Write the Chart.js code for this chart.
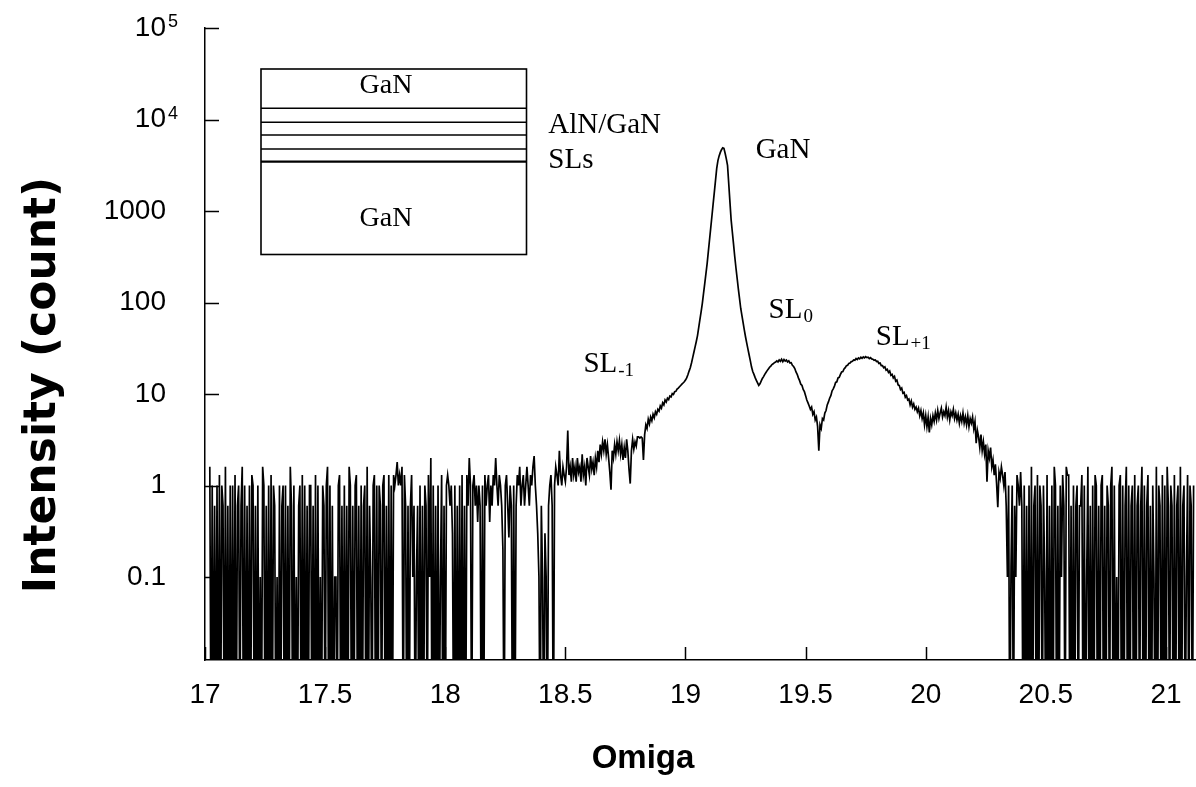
<!DOCTYPE html>
<html>
<head>
<meta charset="utf-8">
<title>GaN / AlN-GaN SL omega scan</title>
<script src="https://cdn.jsdelivr.net/npm/chart.js@4.4.1/dist/chart.umd.min.js"></script>
<style>
  html, body { margin: 0; padding: 0; background: #fff; }
  #scanChart { display: block; }
</style>
</head>
<body>
<canvas id="scanChart" width="1196" height="787"></canvas>
<script>
// omega grid of the scan (deg)
const omegaStart = 17.02;
const omegaStep = 0.005;

// intensity (count), one value per omega step, 20 values per 0.1 deg row
const backgroundLeft = [ // 17.020 - 18.415
  1.6, 0, 1, 0, .6, 0, 1, 0, 1.3, 0, 1, .6, 0, 1.6, 0, .6, 0, 1, 0, 1,
  0, 1.3, 0, .6, 1, 0, .6, 1.6, 0, 1, 0, .6, 0, 1, 0, 1.3, 1, 0, .6, 0,
  1, 0, .1, 0, 1.6, 1, 0, .6, 0, 1, 0, 1.3, 0, 1, .6, 0, .1, 0, 1, 0,
  .6, 1, 0, 1, 0, .6, 0, 1.6, .6, 0, 1, 0, .1, 0, .6, 1, 0, 1.3, 0, 1,
  0, .6, 0, 1, 1, 0, .6, 0, 1.3, 0, 1, 0, .1, 0, 1, .6, 0, 1, 1.6, 0,
  1, 0, .6, 0, .1, .1, 0, 1, 1.3, 0, .6, 0, 1, 0, .6, 0, 1.6, 1, 0, .6,
  0, 1, 1.3, 0, .6, 0, 1, 0, .6, 1, 0, 1.6, 0, .6, .1, 0, 1, 1.3, 0, 1,
  0, 1, .6, 0, 1, 1.3, 0, .6, 0, 1.3, 0, 1, 0, 1.3, 1, 1.3, 1.8, 1, 1.3, 1,
  1.6, 0, 1.3, .6, 0, .6, 0, .6, 1.3, .1, .6, 0, .1, .6, 0, 1, 0, .6, 0, 1,
  .6, 0, 1.3, .1, 2, 0, 1, 0, .6, 0, 1, 0, .1, 1.3, 0, .6, 0, 1, 1.3, 1,
  .6, 1, .3, 0, 1, 0, .6, 0, 1, 0, 1.3, 0, .6, 0, 1.3, .6, 2, 1, 0, 1,
  1.3, .6, 1, .4, 1, .6, 0, 1, 0, 1.3, .6, 1, 1.3, .4, 1, .6, 1.3, 1, 2, 1,
  .6, 1.3, 1, .6, .2, 0, 1, 1.3, .6, .27, 1, .6, 0, 1, 0, .6, 1.3, 1, 1.6, .6,
  1, 1.3, .6, 1, 1.6, 1, .6, 1.3, 1, 1.6, 2.1, 1, .6, .3, .1, 0, .6, .1, 0, .3
];
const shoulderLeft = [ // 18.420 - 18.915 (SL-1 side)
  .1, 0, .6, 1, 1.3, .6, 0, 1, 1.6, 1.3, 1, 2.4, 1.3, 1, 1.6, 1.3, 1.1, 1.6, 4, 1.3,
  1.6, 1.1, 2, 1.3, 1.6, 1.1, 2, 1.4, 1.6, 1.1, 2.2, 1.3, 1.6, 1, 2, 1.6, 1.3, 2.1, 1.5, 1.8,
  1.3, 2, 1.6, 2.4, 1.8, 2.8, 2.2, 3, 2.4, 3.2, 2.2, 2.8, 2, 1.4, .9, 2.4, 2, 2.8, 2.2, 3,
  2.4, 3.1, 2.2, 2.8, 1.9, 2.6, 2, 3.2, 2.4, 1.5, 1.05, 2.4, 3.2, 2.5, 3, 2.7, 3.4, 3.4, 3.3, 3.4,
  3.3, 1.9, 3.6, 4.6, 4.2, 5.3, 4.7, 5.6, 5.1, 6, 5.5, 6.4, 6, 6.8, 6.5, 7.4, 7, 8, 7.6, 8.6
];
const braggPeak = [ // 18.920 - 19.315 (GaN)
  8.2, 9, 8.7, 9.5, 9.3, 10.1, 9.9, 10.6, 10.7, 11.3, 11.6, 12, 12.4, 12.8, 13.2, 13.6, 14.2, 15, 16.2, 17.8,
  19.4, 21.8, 25, 28.6, 32.7, 37.5, 43.5, 53, 65, 79, 97, 125, 160, 206, 265, 357, 482, 650, 877, 1190,
  1600, 2160, 2920, 3550, 4000, 4370, 4680, 4900, 4840, 4270, 3720, 3160, 2000, 1260, 800, 590, 435, 318, 240, 184,
  141, 110, 86, 72, 60, 50, 42, 36, 31, 26.7, 23, 19.7, 17.6, 16.4, 15.1, 14.1, 13.2, 12.4, 12.9, 13.8
];
const fringes = [ // 19.320 - 20.315 (SL0, SL+1)
  14.8, 15.5, 16.4, 17.2, 18, 18.8, 19.6, 20.2, 21, 21.4, 22, 22.3, 23, 22.4, 23.6, 22.8, 24, 22.6, 23.8, 22.9,
  23.5, 22.4, 23, 21.8, 22, 20.6, 20, 19, 17.4, 16.4, 15, 14, 12.8, 12.4, 11.2, 10.6, 9.6, 8.6, 8, 7.4,
  6.8, 7.2, 6, 6.4, 5.2, 5.6, 4.4, 2.4, 4.6, 4.2, 5.4, 5.2, 6.2, 6.6, 7.6, 8.2, 9, 9.6, 10.8, 11.4,
  12.2, 13.4, 13.6, 15, 15.2, 16.4, 17.4, 17.6, 18.8, 19.4, 20.4, 20.6, 21.6, 21.8, 22.6, 22.8, 23.6, 23.4, 24.4, 23.8,
  24.8, 24.2, 25.2, 24.6, 25.4, 24.8, 25.6, 25, 25.2, 24.4, 25, 24.2, 24, 23.4, 23.6, 22.6, 22.8, 21.6, 21.8, 20.4,
  20.4, 19.4, 19.8, 18.2, 18.6, 17.2, 17.8, 16, 16.4, 15, 15.6, 13.8, 14.2, 12.6, 12.4, 11.2, 11.6, 10.2, 10.4, 9.2,
  9.6, 8.6, 8.8, 7.6, 8.4, 7.2, 7.8, 6.8, 7.2, 6.4, 7, 5.8, 6.6, 5.4, 6.2, 4.6, 5.8, 4.4, 5.6, 3.8,
  5.4, 4.6, 5.8, 5, 6.2, 5.2, 6.6, 5.4, 6.2, 7, 5.6, 6.4, 5.8, 7.2, 5.6, 6.6, 5.2, 6.4, 5.8, 6.8,
  5.4, 6.2, 5.2, 6, 4.8, 5.8, 5, 6.2, 4.8, 5.6, 4.6, 5.8, 4.4, 5.4, 4.8, 5.6, 4.2, 5, 2.9, 4,
  3.4, 2.6, 3.6, 2.4, 3, 2.2, 2.8, 1.1, 2.4, 2, 2.6, 1.6, 1.9, 1.3, 1.7, 1.05, .58, 1.4, 1.2, 1.6
];
const backgroundRight = [ // 20.320 - 21.115
  1.3, 1, 1.4, .6, .1, 1, 0, .13, 1, 0, .6, .1, 1.3, 1, .6, 1.4, .6, 0, 1, 0,
  .6, 0, 1, 0, 1.6, 0, .6, 1, 0, 1.3, 0, 1, .6, 0, 1, .1, 0, 1.3, 0, .6,
  0, 1, 0, 1.6, 1, 0, .6, 0, 1, .1, 1.3, .6, 0, 1.6, 1.3, 1.3, 0, .6, 0, 1,
  0, .6, 1, 0, .6, .6, 1.3, 0, 1, 0, .1, 1.6, 0, .6, 0, 1, 0, 1.3, 1, 0,
  .6, 0, 1, 1.3, 0, .6, 0, 1, .6, 0, 1, 1.6, 0, 1, 0, .1, 0, 1, 1.3, 0,
  1, 0, .6, 1.6, 0, 1, 0, .6, 1, 0, 1.3, 0, .6, 1, 0, .6, 1.6, 0, 1, 0,
  .6, 1.3, 0, .6, 0, 1, .1, 0, 1.6, 0, 1, .6, 0, 1.3, 0, 1, 0, 1.6, .6, 0,
  1, .6, 0, 1.3, 0, .6, 1, 0, 1.6, 0, .6, 1, 0, .1, 1.3, 0, 1, .6, 0, 1
];

const xTicks = [17, 17.5, 18, 18.5, 19, 19.5, 20, 20.5, 21];
const yTicks = [0.1, 1, 10, 100, 1000, 1e4, 1e5];

// peak labels: [text, subscript, omega, intensity at baseline]
const peakLabels = [
  ["GaN", "", 19.292, 3800],
  ["SL", "0", 19.346, 67.7],
  ["SL", "+1", 19.792, 34.3],
  ["SL", "-1", 18.575, 17.4],
  ["AlN/GaN", "", 18.429, 7100],
  ["SLs", "", 18.429, 2950]
];

// zero counts cannot sit on a log axis; they are drawn below the bottom edge
const zeroFloor = 1e-3;

const intensity = [].concat(backgroundLeft, shoulderLeft, braggPeak, fringes, backgroundRight);
const points = intensity.map((v, i) => ({
  x: omegaStart + i * omegaStep,
  y: v === 0 ? zeroFloor : v,
}));

const sansFont = '"Liberation Sans", Arial, sans-serif';
const serifFont = '"Liberation Serif", "Times New Roman", serif';

const scanDecor = {
  id: "scanDecor",
  afterDraw(chart) {
    const ctx = chart.ctx;
    const area = chart.chartArea;
    const x = chart.scales.x;
    const y = chart.scales.y;
    ctx.save();
    ctx.strokeStyle = "#000";
    ctx.fillStyle = "#000";

    // inward tick marks
    ctx.lineWidth = 1.5;
    ctx.beginPath();
    xTicks.forEach((v) => {
      const px = Math.round(x.getPixelForValue(v)) + 0.5;
      ctx.moveTo(px, area.bottom);
      ctx.lineTo(px, area.bottom - 13);
    });
    yTicks.forEach((v) => {
      const py = Math.round(y.getPixelForValue(v)) + 0.5;
      ctx.moveTo(area.left, py);
      ctx.lineTo(area.left + 14, py);
    });
    ctx.stroke();

    // exponents for the 10^n labels
    ctx.font = "18px " + sansFont;
    ctx.textAlign = "left";
    ctx.textBaseline = "alphabetic";
    yTicks.filter((v) => v >= 1e4).forEach((v) => {
      const exp = String(Math.round(Math.log10(v)));
      ctx.fillText(exp, area.left - y.options.ticks.padding + 2, y.getPixelForValue(v) - 1);
    });

    // axis titles
    ctx.font = "bold 33px " + sansFont;
    ctx.textAlign = "center";
    ctx.fillText("Omiga", 643, 768);

    ctx.save();
    ctx.translate(44, 385);
    ctx.rotate(-Math.PI / 2);
    ctx.font = 'bold 44px "DejaVu Sans", sans-serif';
    ctx.textBaseline = "middle";
    ctx.fillText("Intensity (count)", 0, 0);
    ctx.restore();

    // layer sketch inset
    const bx = area.left + 56;
    const by = area.top + 41;
    const bw = 265.5;
    const bh = 185.5;
    ctx.lineWidth = 1.6;
    ctx.strokeRect(bx, by, bw, bh);
    [39.3, 53.3, 66, 80, 92.7].forEach((d, i) => {
      ctx.lineWidth = i === 4 ? 2.2 : 1.6;
      ctx.beginPath();
      ctx.moveTo(bx, by + d);
      ctx.lineTo(bx + bw, by + d);
      ctx.stroke();
    });
    ctx.font = "28px " + serifFont;
    ctx.textAlign = "center";
    ctx.textBaseline = "alphabetic";
    ctx.fillText("GaN", bx + 125, by + 24);
    ctx.fillText("GaN", bx + 125, by + 157);

    // peak labels
    ctx.textAlign = "left";
    peakLabels.forEach(([text, sub, om, val]) => {
      const px = x.getPixelForValue(om);
      const py = y.getPixelForValue(val);
      ctx.font = "29px " + serifFont;
      ctx.fillText(text, px, py);
      if (sub) {
        const w = ctx.measureText(text).width;
        ctx.font = "19px " + serifFont;
        ctx.fillText(sub, px + w + 1, py + 4);
      }
    });
    ctx.restore();
  },
};

const chart = new Chart(document.getElementById("scanChart").getContext("2d"), {
  type: "line",
  plugins: [scanDecor],
  data: {
    datasets: [
      {
        label: "Intensity",
        data: points,
        borderColor: "#000",
        borderWidth: 1.7,
        pointRadius: 0,
        tension: 0,
        fill: false,
      },
    ],
  },
  options: {
    responsive: false,
    animation: false,
    events: [],
    layout: { padding: { top: 28, right: 0, bottom: 0, left: 0 } },
    plugins: {
      legend: { display: false },
      tooltip: { enabled: false },
    },
    scales: {
      x: {
        type: "linear",
        min: 17,
        max: 21.125,
        grid: { display: false, drawTicks: false },
        border: { display: true, color: "#000", width: 1.5 },
        afterBuildTicks: (scale) => {
          scale.ticks = xTicks.map((v) => ({ value: v }));
        },
        afterFit: (scale) => {
          scale.height = 127;
          scale.paddingLeft = 0;
          scale.paddingRight = 0;
        },
        ticks: {
          color: "#000",
          padding: 18,
          maxRotation: 0,
          autoSkip: false,
          font: { family: sansFont, size: 28 },
          callback: (v) => String(v),
        },
      },
      y: {
        type: "logarithmic",
        min: 0.01239,
        max: 1e5,
        grid: { display: false, drawTicks: false },
        border: { display: true, color: "#000", width: 1.5 },
        afterBuildTicks: (scale) => {
          scale.ticks = yTicks.map((v) => ({ value: v }));
        },
        afterFit: (scale) => {
          scale.width = 205;
          scale.paddingTop = 0;
          scale.paddingBottom = 0;
        },
        ticks: {
          color: "#000",
          padding: 39,
          autoSkip: false,
          font: { family: sansFont, size: 28 },
          callback: (v) => (v >= 1e4 ? "10" : String(v)),
        },
      },
    },
  },
});
</script>
</body>
</html>
